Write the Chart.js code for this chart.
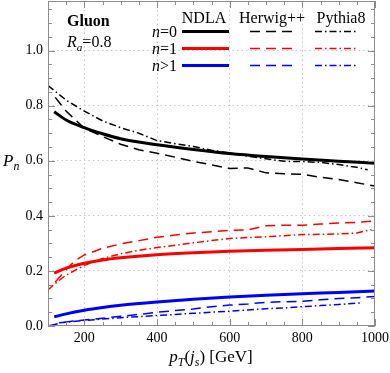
<!DOCTYPE html>
<html>
<head>
<meta charset="utf-8">
<script src="https://cdn.jsdelivr.net/npm/chart.js@4/dist/chart.umd.min.js"></script>
<style>
  html, body { margin: 0; padding: 0; background: #fff; }
  #wrap { width: 390px; height: 373px; }
</style>
</head>
<body>
<div id="wrap"><canvas id="chart" width="390" height="373"></canvas></div>
<script>
// pT values (GeV) and probabilities
const ptNdla = [117, 150, 200, 250, 300, 400, 500, 600, 700, 800, 900, 1000]
const ndla0 = [0.778, 0.748, 0.72, 0.698, 0.68, 0.658, 0.641, 0.626, 0.615, 0.606, 0.598, 0.591]
const ndla1 = [0.192, 0.21, 0.228, 0.24, 0.248, 0.259, 0.266, 0.271, 0.275, 0.278, 0.281, 0.284]
const ndla2 = [0.033, 0.044, 0.057, 0.067, 0.075, 0.087, 0.097, 0.105, 0.112, 0.117, 0.122, 0.127]

const ptHerwig0 = [120, 150, 200, 250, 300, 350, 400, 450, 500, 550, 600, 650, 700, 750, 800, 850, 900, 950, 1000]
const herwig0 = [0.83, 0.78, 0.718, 0.688, 0.66, 0.64, 0.627, 0.613, 0.598, 0.585, 0.572, 0.574, 0.556, 0.553, 0.551, 0.54, 0.532, 0.52, 0.508]
const ptPythia0 = [100, 150, 200, 250, 300, 350, 400, 450, 500, 550, 600, 650, 700, 750, 800, 850, 900, 950, 980]
const pythia0 = [0.873, 0.82, 0.78, 0.745, 0.72, 0.70, 0.673, 0.662, 0.652, 0.638, 0.628, 0.617, 0.607, 0.598, 0.597, 0.594, 0.586, 0.576, 0.567]

const ptHerwig1 = [120, 150, 175, 200, 250, 300, 350, 400, 450, 500, 550, 600, 650, 700, 750, 800, 850, 900, 950, 1000]
const herwig1 = [0.16, 0.205, 0.238, 0.258, 0.282, 0.298, 0.31, 0.322, 0.33, 0.338, 0.342, 0.347, 0.349, 0.364, 0.366, 0.366, 0.37, 0.374, 0.376, 0.382]
const ptPythia1 = [100, 125, 150, 200, 250, 300, 350, 400, 450, 500, 550, 600, 650, 700, 750, 800, 850, 900, 950, 990]
const pythia1 = [0.131, 0.16, 0.185, 0.22, 0.245, 0.262, 0.275, 0.285, 0.293, 0.302, 0.31, 0.318, 0.321, 0.324, 0.328, 0.332, 0.333, 0.334, 0.338, 0.35]

const ptHerwig2 = [100, 150, 200, 250, 300, 350, 400, 450, 500, 550, 600, 650, 700, 750, 800, 850, 900, 950, 1000]
const herwig2 = [0.0, 0.015, 0.022, 0.028, 0.035, 0.042, 0.05, 0.056, 0.062, 0.07, 0.076, 0.08, 0.086, 0.088, 0.09, 0.095, 0.1, 0.103, 0.107]
const ptPythia2 = [130, 150, 200, 250, 300, 350, 400, 450, 500, 550, 600, 650, 700, 750, 800, 850, 900, 960]
const pythia2 = [0.012, 0.014, 0.02, 0.025, 0.03, 0.034, 0.038, 0.042, 0.046, 0.05, 0.054, 0.058, 0.063, 0.066, 0.07, 0.074, 0.078, 0.084]

const xTicks = [200, 400, 600, 800, 1000]
const yTicks = [0, 0.2, 0.4, 0.6, 0.8, 1.0]
const rowLabels = ['=0', '=1', '>1']
const colLabels = ['NDLA', 'Herwig++', 'Pythia8']

const serif = "'Liberation Serif', 'Times New Roman', serif"
Chart.defaults.font.family = serif
const colors = ['#000000', '#ff0000', '#0000ff']
const dashHerwig = [10, 6]
const dashPythia = [7, 3, 1.5, 3]

const pts = (xs, ys) => xs.map((x, i) => ({ x: x, y: ys[i] }))

const ndlaSet = (xs, ys, c) => ({
  data: pts(xs, ys), borderColor: c, borderWidth: 3,
  pointRadius: 0, cubicInterpolationMode: 'monotone', fill: false
})
const mcSet = (xs, ys, c, dash) => ({
  data: pts(xs, ys), borderColor: c, borderWidth: 1.5, borderDash: dash,
  pointRadius: 0, tension: 0, fill: false
})

const datasets = [
  ndlaSet(ptNdla, ndla0, colors[0]),
  mcSet(ptHerwig0, herwig0, colors[0], dashHerwig),
  mcSet(ptPythia0, pythia0, colors[0], dashPythia),
  ndlaSet(ptNdla, ndla1, colors[1]),
  mcSet(ptHerwig1, herwig1, colors[1], dashHerwig),
  mcSet(ptPythia1, pythia1, colors[1], dashPythia),
  ndlaSet(ptNdla, ndla2, colors[2]),
  mcSet(ptHerwig2, herwig2, colors[2], dashHerwig),
  mcSet(ptPythia2, pythia2, colors[2], dashPythia)
]

// draw a run of text pieces, some italic, some subscript
function drawRich(ctx, parts, x, y, size, align) {
  const fontOf = p => `${p.bold ? 'bold ' : ''}${p.it ? 'italic ' : ''}${p.sub ? size * 0.7 : size}px ${serif}`
  let total = 0
  parts.forEach(p => { ctx.font = fontOf(p); total += ctx.measureText(p.t).width })
  let cx = align === 'right' ? x - total : align === 'center' ? x - total / 2 : x
  ctx.textAlign = 'left'
  ctx.textBaseline = 'alphabetic'
  parts.forEach(p => {
    ctx.font = fontOf(p)
    ctx.fillText(p.t, cx, p.sub ? y + size * 0.25 : y)
    cx += ctx.measureText(p.t).width
  })
}

const decorPlugin = {
  id: 'decor',
  afterDraw(chart) {
    const ctx = chart.ctx
    const a = chart.chartArea
    const xs = chart.scales.x
    const ys = chart.scales.y
    ctx.save()

    // frame
    ctx.strokeStyle = '#8c8c8c'
    ctx.lineWidth = 1
    ctx.setLineDash([])
    ctx.strokeRect(a.left + 0.5, a.top + 0.5, a.right - a.left - 1, a.bottom - a.top - 1)

    // inward ticks on all four sides
    ctx.beginPath()
    for (let v = 100; v <= 1000; v += 50) {
      const px = Math.round(xs.getPixelForValue(v)) + 0.5
      const len = v % 200 === 0 ? 7 : 4
      ctx.moveTo(px, a.bottom); ctx.lineTo(px, a.bottom - len)
      ctx.moveTo(px, a.top); ctx.lineTo(px, a.top + len)
    }
    for (let i = 0; i * 0.05 <= ys.max; i++) {
      const py = Math.round(ys.getPixelForValue(i * 0.05)) + 0.5
      const len = i % 4 === 0 ? 7 : 4
      ctx.moveTo(a.left, py); ctx.lineTo(a.left + len, py)
      ctx.moveTo(a.right, py); ctx.lineTo(a.right - len, py)
    }
    ctx.stroke()

    ctx.fillStyle = '#000'
    // axis titles
    drawRich(ctx, [{ t: 'P', it: true }, { t: 'n', it: true, sub: true }], 3, 166, 17, 'left')
    drawRich(ctx, [
      { t: 'p', it: true }, { t: 'T', it: true, sub: true }, { t: '(' },
      { t: 'j', it: true }, { t: 's', it: true, sub: true }, { t: ') [GeV]' }
    ], 211, 362, 17, 'center')

    // labels inside the plot
    drawRich(ctx, [{ t: 'Gluon', bold: true }], 67, 26, 16, 'left')
    drawRich(ctx, [{ t: 'R', it: true }, { t: 'a', it: true, sub: true }, { t: '=0.8' }], 67, 47, 16, 'left')

    // legend table
    const colX = [[182, 229], [250, 293], [315, 358]]
    const headX = [204, 272, 341]
    const rowY = [31.5, 48.5, 65.5]
    colLabels.forEach((c, j) => drawRich(ctx, [{ t: c }], headX[j], 23, 16, 'center'))
    rowLabels.forEach((r, i) => {
      drawRich(ctx, [{ t: 'n', it: true }, { t: r }], 177, rowY[i] + 5, 16, 'right')
      for (let j = 0; j < 3; j++) {
        const ds = chart.data.datasets[i * 3 + j]
        ctx.beginPath()
        ctx.strokeStyle = ds.borderColor
        ctx.lineWidth = ds.borderWidth
        ctx.setLineDash(ds.borderDash || [])
        ctx.moveTo(colX[j][0], rowY[i]); ctx.lineTo(colX[j][1], rowY[i])
        ctx.stroke()
      }
    })
    ctx.restore()
  }
}

const gridColor = (min, max) => c =>
  (c.tick && c.tick.value > min + 1e-9 && c.tick.value < max - 1e-9) ? '#c8c8c8' : 'rgba(0,0,0,0)'

new Chart(document.querySelector('#chart'), {
  type: 'line',
  data: { datasets: datasets },
  plugins: [decorPlugin],
  options: {
    responsive: false,
    animation: false,
    layout: { padding: { top: 1, right: 15, left: 0, bottom: 0 } },
    plugins: { legend: { display: false }, tooltip: { enabled: false } },
    scales: {
      x: {
        type: 'linear', min: 100, max: 1000,
        afterBuildTicks: s => { s.ticks = xTicks.map(v => ({ value: v })) },
        afterFit: s => { s.height = 47; s.paddingLeft = 0; s.paddingRight = 0 },
        ticks: { color: '#000', font: { family: serif, size: 14 }, padding: 4, maxRotation: 0, callback: v => String(v) },
        grid: { color: gridColor(100, 1000), drawTicks: false, lineWidth: 1 },
        border: { display: false, dash: [1.5, 3] }
      },
      y: {
        type: 'linear', min: 0, max: 1.18,
        afterBuildTicks: s => { s.ticks = yTicks.map(v => ({ value: v })) },
        afterFit: s => { s.width = 48; s.paddingTop = 0; s.paddingBottom = 0 },
        ticks: { color: '#000', font: { family: serif, size: 14 }, padding: 5, callback: v => v.toFixed(1) },
        grid: { color: gridColor(0, 1.18), drawTicks: false, lineWidth: 1 },
        border: { display: false, dash: [1.5, 3] }
      }
    }
  }
})
</script>
</body>
</html>
